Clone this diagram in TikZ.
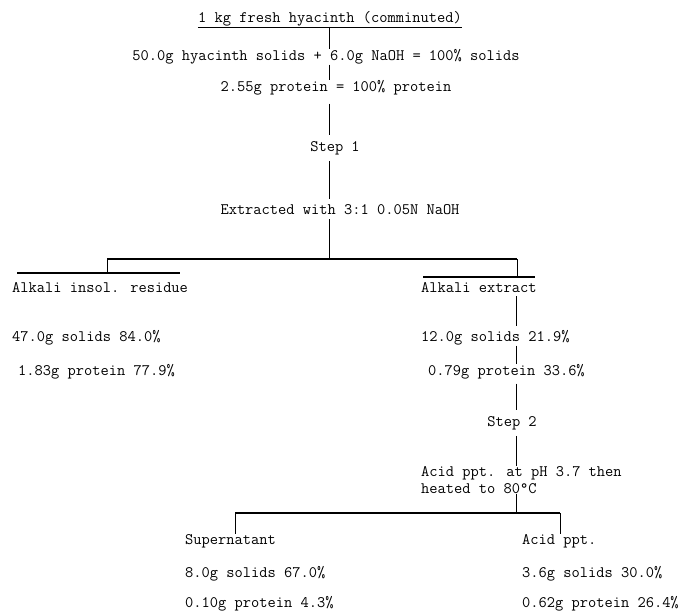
\documentclass[tikz,border=0pt]{standalone}
\begin{document}
\begin{tikzpicture}[x=1pt,y=-1pt,
  txt/.style={inner sep=0pt, font=\fontsize{16}{17}\selectfont\ttfamily},
  vline/.style={line width=0.8pt},
  bar/.style={line width=1.8pt}]
\useasboundingbox (0,0) rectangle (679,615);
\coordinate (mx) at (329,0);
\coordinate (rx) at (516,0);
% top column
\node[txt] (title) at (330,19) {1 kg fresh hyacinth (comminuted)};
\coordinate (ul) at (0,27);
\draw[vline] (title.west |- ul) -- (title.east |- ul);
\node[txt] (l2) at (326,57) {50.0g hyacinth solids + 6.0g NaOH = 100\% solids};
\node[txt] (l3) at (336,88) {2.55g protein = 100\% protein};
\node[txt] (s1) at (335,148) {Step 1};
\node[txt] (ex) at (340,210) {Extracted with 3:1 0.05N NaOH};
\coordinate (b1L) at (107,259);
\coordinate (b1R) at (517,259);
\draw[vline] (mx |- ul) -- (mx |- l2.north);
\draw[vline] (mx |- l2.south) -- (mx |- l3.north);
\draw[vline] ([yshift=-8pt]mx |- l3.south) -- ([yshift=6pt]mx |- s1.north);
\draw[vline] ([yshift=-6pt]mx |- s1.south) -- ([yshift=6pt]mx |- ex.north);
\draw[vline] ([yshift=-4pt]mx |- ex.south) -- (mx |- b1L);
\draw[bar] (b1L) -- (b1R);
% left branch
\coordinate (b2L) at (17,273);
\coordinate (b2R) at (180,273);
\draw[vline] (b1L) -- (b1L |- b2L);
\draw[bar] (b2L) -- (b2R);
\node[txt, anchor=west] (air) at (12,288) {Alkali insol. residue};
\node[txt, anchor=west] (ls) at (12,338) {47.0g solids 84.0\%};
\node[txt, anchor=west] (lp) at (18,372) {1.83g protein 77.9\%};
% right branch
\coordinate (b3L) at (423,277);
\coordinate (b3R) at (535,277);
\draw[vline] (b1R) -- (b1R |- b3L);
\draw[bar] (b3L) -- (b3R);
\node[txt, anchor=west] (ae) at (421,288) {Alkali extract};
\node[txt, anchor=west] (rs) at (421,338) {12.0g solids 21.9\%};
\node[txt, anchor=west] (rp) at (428,372) {0.79g protein 33.6\%};
\node[txt] (s2) at (512,423) {Step 2};
\node[txt, anchor=north west, align=left] (acid) at (421,466) {Acid ppt. at pH 3.7 then\\heated to 80\textdegree C};
\draw[vline] ([yshift=-3pt]rx |- ae.south) -- ([yshift=4pt]rx |- rs.north);
\draw[vline] (rx |- rs.south) -- (rx |- rp.north);
\draw[vline] ([yshift=-4pt]rx |- rp.south) -- ([yshift=6pt]rx |- s2.north);
\draw[vline] ([yshift=-6pt]rx |- s2.south) -- (rx |- acid.north);
\coordinate (b4L) at (235,513);
\coordinate (b4R) at (560,513);
\draw[vline] (rx |- acid.south) -- (rx |- b4L);
\draw[bar] (b4L) -- (b4R);
% bottom
\node[txt, anchor=west] (sup) at (185,541) {Supernatant};
\node[txt, anchor=west] (ss) at (185,574) {8.0g solids 67.0\%};
\node[txt, anchor=west] (sp) at (185,604) {0.10g protein 4.3\%};
\node[txt, anchor=west] (ap) at (522,541) {Acid ppt.};
\node[txt, anchor=west] (as) at (522,574) {3.6g solids 30.0\%};
\node[txt, anchor=west] (app) at (522,604) {0.62g protein 26.4\%};
\draw[vline] (b4L) -- (b4L |- sup.north);
\draw[vline] (b4R) -- (b4R |- ap.north);
\end{tikzpicture}
\end{document}
